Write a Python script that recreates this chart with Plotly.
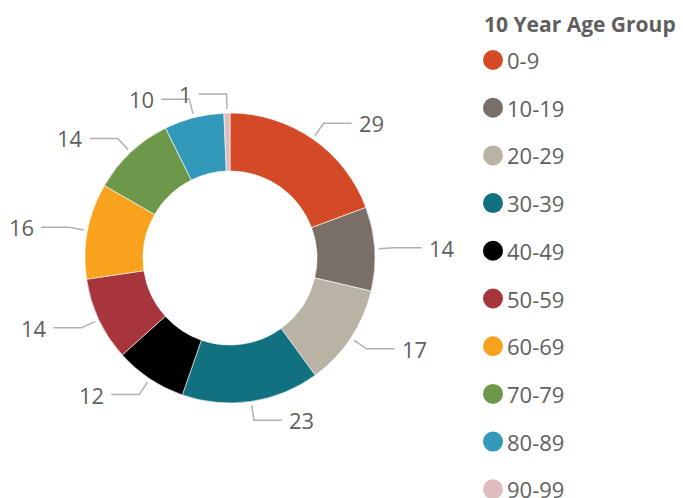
import numpy as np
import plotly.graph_objects as go

# data
age_groups = ["0-9", "10-19", "20-29", "30-39", "40-49", "50-59", "60-69", "70-79", "80-89", "90-99"]
counts = [29, 14, 17, 23, 12, 14, 16, 14, 10, 1]
colors = ["#D54A26", "#796F66", "#B8B3A5", "#117180", "#000000",
          "#A8343C", "#F8A21D", "#6D9749", "#3399BB", "#DDBDC0"]
legend_title = "10 Year Age Group"

W, H = 683, 498
OFF = 8  # page body margin pushes the plot 8px right/down
cx, cy, R = 230, 258, 145
txt_color = "#5F5F5F"
line_color = "#B0B0B0"
font = "Open Sans, Noto Sans, sans-serif"


def px(x):
    return (x - OFF) / W


def py(y):
    return 1 - (y - OFF) / H


fig = go.Figure(go.Pie(
    labels=age_groups,
    values=counts,
    marker=dict(colors=colors, line=dict(color="white", width=0.6)),
    hole=0.6,
    sort=False,
    direction="clockwise",
    rotation=0,
    textinfo="none",
    showlegend=False,
    domain=dict(x=[px(cx - R), px(cx + R)], y=[py(cy + R), py(cy - R)]),
))

# leader lines + value labels, placed from the slice mid-angles
shapes = []
annotations = []
total = sum(counts)
cum = 0
for v in counts:
    mid = (cum + v / 2) / total * 2 * np.pi
    cum += v
    s, c = np.sin(mid), np.cos(mid)
    x0, y0 = cx + (R + 4) * s, cy - (R + 4) * c
    x1, y1 = cx + (R + 19) * s, cy - (R + 19) * c
    side = 1 if s >= 0 else -1
    x2 = x1 + side * 28
    shapes.append(dict(
        type="path", xref="paper", yref="paper",
        path=f"M {px(x0)},{py(y0)} L {px(x1)},{py(y1)} L {px(x2)},{py(y1)}",
        line=dict(color=line_color, width=1.5),
    ))
    annotations.append(dict(
        x=px(x2 + side * 5), y=py(y1), xref="paper", yref="paper",
        text=str(v), showarrow=False,
        xanchor="left" if side > 0 else "right", yanchor="middle",
        font=dict(size=22, color=txt_color, family=font),
    ))

# legend drawn by hand so the markers are round and well spaced
lx, ly0, step = 493, 60, 47.7
annotations.append(dict(
    x=px(482), y=py(24), xref="paper", yref="paper",
    text=f"<b>{legend_title}</b>", showarrow=False,
    xanchor="left", yanchor="middle",
    font=dict(size=21, color=txt_color, family=font),
))
for i, (g, col) in enumerate(zip(age_groups, colors)):
    yy = ly0 + i * step
    shapes.append(dict(
        type="circle", xref="paper", yref="paper",
        x0=px(lx - 10), x1=px(lx + 10), y0=py(yy + 10), y1=py(yy - 10),
        fillcolor=col, line=dict(width=0),
    ))
    annotations.append(dict(
        x=px(lx + 12), y=py(yy), xref="paper", yref="paper",
        text=g, showarrow=False, xanchor="left", yanchor="middle",
        font=dict(size=22, color=txt_color, family=font),
    ))

fig.update_layout(
    width=W, height=H,
    margin=dict(l=0, r=0, t=0, b=0),
    paper_bgcolor="white",
    plot_bgcolor="white",
    shapes=shapes,
    annotations=annotations,
    font=dict(family=font, color=txt_color),
)

fig.write_html("out.html")
